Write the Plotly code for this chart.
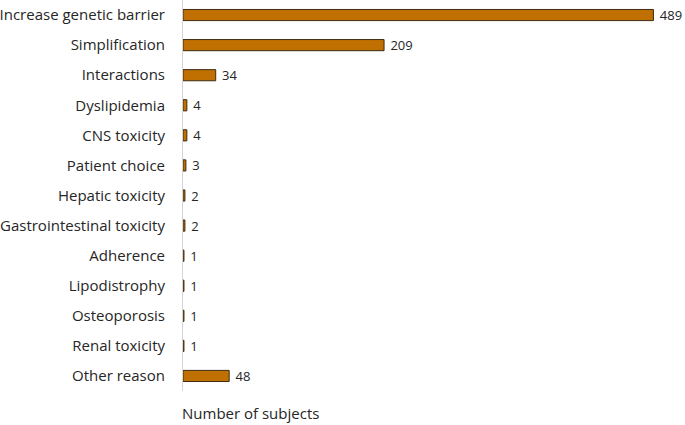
import plotly.graph_objects as go

categories = ["Increase genetic barrier", "Simplification", "Interactions", "Dyslipidemia",
              "CNS toxicity", "Patient choice", "Hepatic toxicity", "Gastrointestinal toxicity",
              "Adherence", "Lipodistrophy", "Osteoporosis", "Renal toxicity", "Other reason"]
values = [489, 209, 34, 4, 4, 3, 2, 2, 1, 1, 1, 1, 48]
x_title = "Number of subjects"

FONT = "Open Sans"
TXT = "#262626"

fig = go.Figure(go.Bar(
    x=values, y=categories, orientation="h",
    marker=dict(color="#C07000", line=dict(color="#3d2b12", width=1)),
    width=0.37,
    text=[f" {v}" for v in values], textposition="outside",
    textfont=dict(size=13, color=TXT, family=FONT),
    constraintext="none",
    cliponaxis=False,
))

fig.update_layout(
    width=685, height=425,
    margin=dict(l=183, r=21, t=0, b=34),
    plot_bgcolor="white", paper_bgcolor="white",
    showlegend=False,
    font=dict(family=FONT, size=15, color=TXT),
    xaxis=dict(range=[0, 500], visible=False, fixedrange=True),
    yaxis=dict(autorange="reversed", showline=True, linecolor="#d4d4d4", linewidth=1,
               ticks="", ticklabelstandoff=14, tickfont=dict(size=15, color=TXT),
               fixedrange=True),
    annotations=[dict(text=x_title, xref="paper", yref="paper", x=0, y=0,
                      xanchor="left", yanchor="middle", yshift=-22, xshift=-3,
                      showarrow=False, font=dict(size=15, color=TXT))],
)

fig.write_html("out.html", config={"displayModeBar": False},
               post_script="document.body.style.margin='0';")
